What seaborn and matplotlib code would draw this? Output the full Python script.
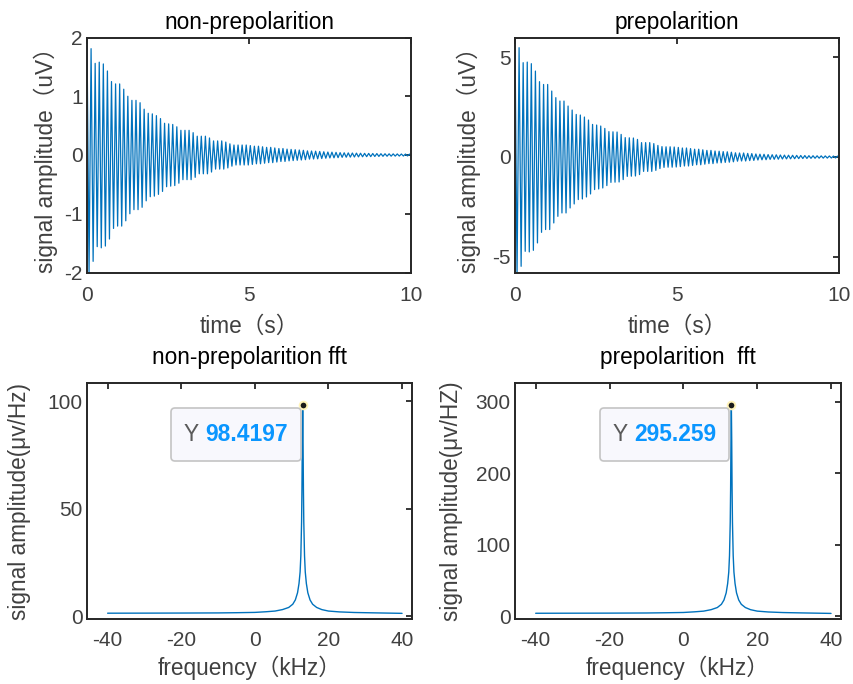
import numpy as np
import pandas as pd
import matplotlib
matplotlib.use("Agg")
import matplotlib.pyplot as plt
import seaborn as sns
from matplotlib.offsetbox import TextArea, HPacker, AnnotationBbox, DrawingArea

# ---- time-domain FID: peak amplitude of each oscillation cycle (uV) ----
cycle_period_s = 0.126
nonpre_peaks_uv = [
    2.0, 1.81, 1.56, 1.58, 1.55, 1.43, 1.25, 1.21, 1.21, 1.12,
    1.0, 0.93, 0.93, 0.89, 0.78, 0.71, 0.70, 0.67, 0.62, 0.54,
    0.53, 0.52, 0.48, 0.42, 0.42, 0.42, 0.38, 0.32, 0.32, 0.32,
    0.29, 0.24, 0.24, 0.24, 0.22, 0.19, 0.17, 0.17, 0.17, 0.17,
    0.16, 0.15, 0.15, 0.14, 0.13, 0.13, 0.12, 0.11, 0.11, 0.10,
    0.095, 0.09, 0.085, 0.08, 0.07, 0.068, 0.065, 0.06, 0.055, 0.05,
    0.048, 0.045, 0.04, 0.038, 0.036, 0.034, 0.032, 0.03, 0.028, 0.027,
    0.025, 0.024, 0.022, 0.021, 0.02, 0.019, 0.018, 0.017, 0.016, 0.015,
]
pre_peaks_uv = [
    5.95, 5.47, 4.72, 4.75, 4.67, 4.3, 3.77, 3.63, 3.63, 3.3,
    2.97, 2.8, 2.8, 2.55, 2.35, 2.13, 2.1, 2.0, 1.85, 1.63,
    1.6, 1.55, 1.43, 1.27, 1.26, 1.25, 1.13, 0.97, 0.96, 0.95,
    0.88, 0.72, 0.72, 0.72, 0.67, 0.58, 0.52, 0.51, 0.51, 0.5,
    0.48, 0.45, 0.45, 0.42, 0.39, 0.39, 0.36, 0.33, 0.33, 0.30,
    0.29, 0.27, 0.26, 0.24, 0.21, 0.2, 0.2, 0.18, 0.17, 0.15,
    0.14, 0.135, 0.12, 0.115, 0.11, 0.1, 0.095, 0.09, 0.085, 0.08,
    0.075, 0.072, 0.066, 0.063, 0.06, 0.057, 0.054, 0.051, 0.048, 0.045,
]

# ---- spectra ----
freq_khz = [-40, -30, -20, -10, -5, 0, 3, 5.5, 7.5, 9.2, 10.3, 11.0, 11.6,
            12.0, 12.3, 12.5, 12.7, 12.8, 12.9, 13.0, 13.1, 13.2, 13.3, 13.5,
            13.7, 14.0, 14.4, 15.0, 15.7, 16.8, 18.2, 20, 23, 27, 32, 40]
nonpre_spec = [1.5, 1.53, 1.57, 1.63, 1.73, 1.87, 2.17, 2.5, 3.17, 4.17, 5.67,
               7.67, 11, 15.3, 20.7, 28.3, 44, 59, 81.7, 98.4197, 81.7, 59, 44,
               28.3, 20.7, 15.3, 11, 7.67, 5.67, 4.17, 3.17, 2.5, 2.1, 1.83,
               1.67, 1.43]
pre_spec = [4.5, 4.6, 4.7, 4.9, 5.2, 5.6, 6.5, 7.5, 9.5, 12.5, 17, 23, 33, 46,
            62, 85, 132, 177, 245, 295.259, 245, 177, 132, 85, 62, 46, 33, 23,
            17, 12.5, 9.5, 7.5, 6.3, 5.5, 5.0, 4.3]

titles = ["non-prepolarition", "prepolarition",
          "non-prepolarition fft", "prepolarition  fft"]

sns.set_theme(style="white")
plt.rcParams["font.family"] = ["Liberation Sans", "Noto Sans CJK SC"]
plt.rcParams["axes.unicode_minus"] = False

LINE = "#0072BD"
AXC = "#262626"
TXT = "#404040"

fig = plt.figure(figsize=(8.54, 6.84), dpi=100)
W, H = 854, 684


def rect(x0, y0, x1, y1):
    return [x0 / W, 1 - y1 / H, (x1 - x0) / W, (y1 - y0) / H]


ax_tl = fig.add_axes(rect(87, 37.5, 411, 272.5))
ax_tr = fig.add_axes(rect(515, 37.5, 839, 272.5))
ax_bl = fig.add_axes(rect(87, 383, 412, 619))
ax_br = fig.add_axes(rect(515, 383, 841, 619))


def style(ax, xpad):
    for s in ax.spines.values():
        s.set_color(AXC)
        s.set_linewidth(1.4)
        s.set_visible(True)
    ax.tick_params(direction="in", top=True, right=True, length=4, width=1.3,
                   colors=AXC, labelcolor=TXT, labelsize=15)
    ax.tick_params(axis="x", pad=xpad)
    ax.tick_params(axis="y", pad=3)
    ax.grid(False)


def fid_frame(peaks):
    peaks = np.asarray(peaks, dtype=float)
    n = len(peaks)
    t = np.empty(2 * n)
    y = np.empty(2 * n)
    t[0::2] = np.arange(n) * cycle_period_s
    t[1::2] = t[0::2] + cycle_period_s / 2
    y[0::2] = peaks
    y[1::2] = -peaks
    return pd.DataFrame({"t": t, "y": y})


def datatip(ax, x, y, value_text):
    ax.plot([x], [y], marker="o", ms=5.5, mfc="#1a1a1a", mec="#fff3b8",
            mew=1.4, zorder=6, clip_on=False)
    ta_y = TextArea("Y", textprops=dict(color="#5a5a5a", fontsize=16.5))
    ta_v = TextArea(value_text, textprops=dict(color="#0a96ff", fontsize=16.5,
                                               fontweight="bold"))
    row = HPacker(children=[ta_y, ta_v], align="center", pad=0, sep=5)
    strut = DrawingArea(0, 20)
    pack = HPacker(children=[strut, row], align="center", pad=0, sep=0)
    ab = AnnotationBbox(pack, (x, y), xybox=(-10.5, -11.5), xycoords="data",
                        boxcoords="offset points", box_alignment=(1, 1),
                        frameon=True, fontsize=9.0,
                        bboxprops=dict(boxstyle="round,pad=1.0,rounding_size=0.3",
                                       fc="#f8f8fd", ec="#c4c4c4", lw=1.2),
                        zorder=7)
    ax.add_artist(ab)


# top row: time signals
for ax, peaks, ylim, yt, title, ylab_x in [
    (ax_tl, nonpre_peaks_uv, (-2, 2), [-2, -1, 0, 1, 2], titles[0], -0.09),
    (ax_tr, pre_peaks_uv, (-5.78, 5.98), [-5, 0, 5], titles[1], -0.105),
]:
    sns.lineplot(data=fid_frame(peaks), x="t", y="y", ax=ax, color=LINE,
                 linewidth=0.9, estimator=None, sort=False)
    ax.set_xlim(0, 10)
    ax.set_ylim(*ylim)
    ax.set_xticks([0, 5, 10])
    ax.set_yticks(yt)
    ax.set_xlabel("time（s）", fontsize=16.3, color=TXT, labelpad=7)
    ax.set_ylabel("signal amplitude（uV）", fontsize=16.3, color=TXT)
    ax.yaxis.set_label_coords(ylab_x, 0.5)
    ax.set_title(title, fontsize=16.3, color="#000000", pad=6)
    style(ax, 10)

# bottom row: spectra
for ax, spec, ylim, yt, ylab, title, tip, ylab_x in [
    (ax_bl, nonpre_spec, (-1.2, 108.6), [0, 50, 100],
     "signal amplitude(μv/Hz)", titles[2], "98.4197", -0.172),
    (ax_br, pre_spec, (-3.5, 325.9), [0, 100, 200, 300],
     "signal amplitude(μv/HZ)", titles[3], "295.259", -0.16),
]:
    df = pd.DataFrame({"f": freq_khz, "a": spec})
    sns.lineplot(data=df, x="f", y="a", ax=ax, color=LINE, linewidth=1.0,
                 estimator=None, sort=False)
    ax.set_xlim(-45.6, 42.7)
    ax.set_ylim(*ylim)
    ax.set_xticks([-40, -20, 0, 20, 40])
    ax.set_yticks(yt)
    ax.set_xlabel("frequency（kHz）", fontsize=16.3, color=TXT, labelpad=3.5)
    ax.set_ylabel(ylab, fontsize=16.3, color=TXT)
    ax.yaxis.set_label_coords(ylab_x, 0.5)
    ax.set_title(title, fontsize=16.3, color="#000000", pad=14)
    style(ax, 9)
    i = int(np.argmax(spec))
    datatip(ax, freq_khz[i], spec[i], tip)

fig.savefig("out.png", dpi=100, facecolor="white")
